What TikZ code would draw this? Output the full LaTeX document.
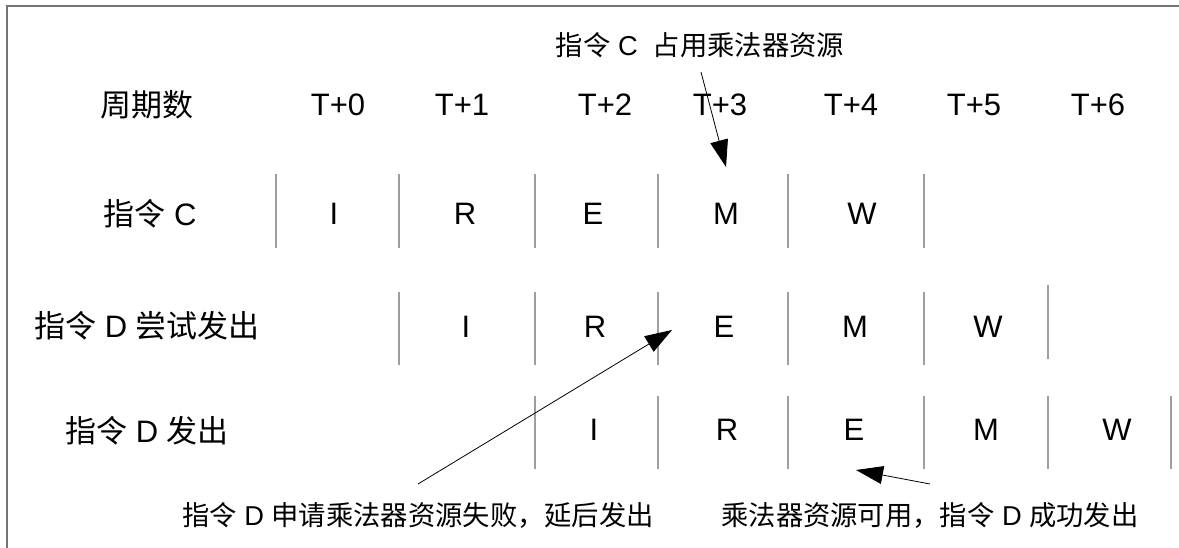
\documentclass[tikz,border=0pt]{standalone}
\usepackage{fontspec}
\setmainfont{Liberation Sans}
\newfontfamily\cjk{Noto Sans CJK SC}
\usetikzlibrary{positioning,arrows.meta}

\begin{document}
\begin{tikzpicture}[x = 1pt, y = -1pt,
        Big/.style = {font = \fontsize{31}{36}\selectfont},
        Note/.style = {font = \fontsize{27.3}{31}\selectfont},
        Sep/.style = {draw = black!38, line width = 1.4pt},
        Arrow/.style = {-{Triangle[length = 27pt, width = 18pt]}, line width = 0.8pt}]
        \useasboundingbox (0,0) rectangle (1179,547);
        \clip (0,0) rectangle (1179,547);
        \draw [draw = black!55, line width = 2pt] (7,6) rectangle (1200,570);
        % header row
        \node [Big] (cycles) at (147,105) {\cjk 周期数};
        \foreach \x [count = \i from 0] in {338,462,605,720,851,974,1098}
            \node [Big] (t\i) at (\x,105) {T+\i};
        % row labels
        \node [Big] (instC) at (150,214) {{\cjk 指令} C};
        \node [Big] (instDtry) at (147,326) {{\cjk 指令}\ D\ {\cjk 尝试发出}};
        \node [Big] (instD) at (147,431) {{\cjk 指令}\ D\ {\cjk 发出}};
        % instruction C
        \foreach \x in {276,399,535,658,788,924}
            \draw [Sep] (\x,174) -- (\x,248);
        \node [Big] (cI) at (334,214) {I};
        \node [Big] (cR) at (465,214) {R};
        \node [Big] (cE) at (593,214) {E};
        \node [Big] (cM) at (726,214) {M};
        \node [Big] (cW) at (862,214) {W};
        % instruction D, first try
        \foreach \x in {399,535,658,788,924}
            \draw [Sep] (\x,292) -- (\x,365);
        \draw [Sep] (1048,285) -- (1048,359);
        \node [Big] (dtI) at (466,327) {I};
        \node [Big] (dtR) at (595,327) {R};
        \node [Big] (dtE) at (724,327) {E};
        \node [Big] (dtM) at (855,327) {M};
        \node [Big] (dtW) at (988,327) {W};
        % instruction D, issued
        \foreach \x in {535,658,788,924,1048,1171}
            \draw [Sep] (\x,396) -- (\x,469);
        \node [Big] (dI) at (594,430) {I};
        \node [Big] (dR) at (727,430) {R};
        \node [Big] (dE) at (854,430) {E};
        \node [Big] (dM) at (986,430) {M};
        \node [Big] (dW) at (1117,430) {W};
        % notes
        \node [Note] (noteC) at (700,45) {{\cjk 指令} C\ \ {\cjk 占用乘法器资源}};
        \node [Note] (noteFail) at (418,515) {{\cjk 指令} D {\cjk 申请乘法器资源失败，延后发出}};
        \node [Note] (noteOk) at (930,515) {{\cjk 乘法器资源可用，指令} D {\cjk 成功发出}};
        \coordinate (cTail) at (701,72);
        \coordinate (cTip) at (726,167);
        \coordinate (failTail) at (418,484);
        \coordinate (failTip) at (672,330);
        \coordinate (okTail) at (930,484);
        \coordinate (okTip) at (856,470);
        \draw [Arrow] (cTail) -- (cTip);
        \draw [Arrow] (failTail) -- (failTip);
        \draw [Arrow] (okTail) -- (okTip);
    \end{tikzpicture}
\end{document}
